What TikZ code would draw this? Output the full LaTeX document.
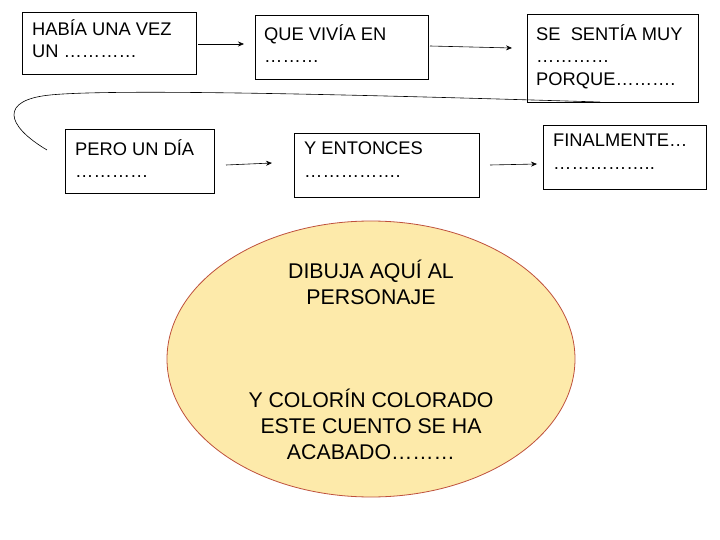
\documentclass[tikz,border=0pt]{standalone}
\usepackage{fontspec}
\setmainfont{Liberation Sans}
\usetikzlibrary{arrows.meta,shapes.geometric}
\begin{document}
\begin{tikzpicture}[x=1pt,y=-1pt,
 box/.style={draw,line width=0.7pt},
 lbl/.style={anchor=north west,align=left,font=\fontsize{18.3}{22.5}\selectfont,inner sep=0pt},
 ell/.style={align=center,font=\fontsize{21.3}{26}\selectfont},
 arr/.style={-{Stealth[length=6pt,width=5pt]},line width=0.6pt}]
\useasboundingbox (0,0) rectangle (720,540);
\draw[box] (22,12) rectangle (196,74);
\node[lbl] (t1) at (32,19) {HABÍA UNA VEZ\\UN …………};
\draw[box] (255,15) rectangle (428,79);
\node[lbl] (t2) at (264,24) {QUE VIVÍA EN\\………};
\draw[box] (527,14) rectangle (698,102);
\node[lbl] (t3) at (536,24) {SE \ SENTÍA MUY\\…………\\PORQUE……….};
\draw[box] (65,129) rectangle (214,193);
\node[lbl] (t4) at (75,139) {PERO UN DÍA\\…………};
\draw[box] (294,133) rectangle (479,197);
\node[lbl] (t5) at (304,142) {Y ENTONCES\\…………….};
\draw[box] (543,125) rectangle (706,189);
\node[lbl] (t6) at (553,134) {FINALMENTE…\\……………..};
\coordinate (a1s) at (198,44); \coordinate (a1e) at (244,44);
\coordinate (a2s) at (430,46); \coordinate (a2e) at (512,48);
\coordinate (a3s) at (226,165); \coordinate (a3e) at (272,163);
\coordinate (a4s) at (490,165); \coordinate (a4e) at (537,164);
\draw[arr] (a1s) -- (a1e);
\draw[arr] (a2s) -- (a2e);
\draw[arr] (a3s) -- (a3e);
\draw[arr] (a4s) -- (a4e);
\coordinate (cs) at (600,102); \coordinate (ce) at (47,150);
\draw[line width=0.6pt] (cs) .. controls (400,96) and (120,88) .. (50,95)
  .. controls (0,100) and (5,125) .. (ce);
\node[draw={rgb,255:red,190;green,80;blue,60},line width=0.8pt,fill={rgb,255:red,253;green,234;blue,170},ellipse,minimum width=408pt,minimum height=276pt,inner sep=0pt] (el) at (371,359) {};
\node[ell] (e1) at (371,282) {DIBUJA AQUÍ AL\\PERSONAJE};
\node[ell] (e2) at (371,424) {Y COLORÍN COLORADO\\ESTE CUENTO SE HA\\ACABADO………};
\end{tikzpicture}
\end{document}
